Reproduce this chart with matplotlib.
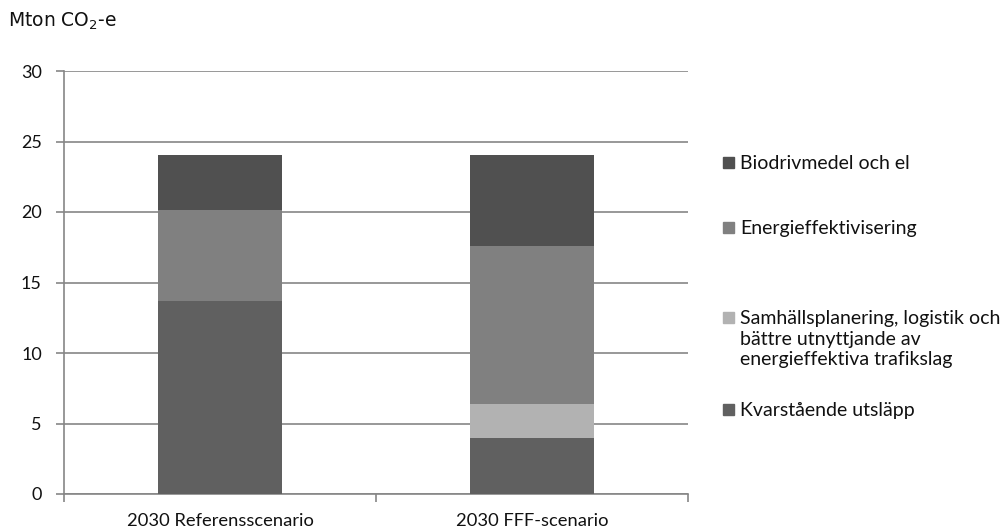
import matplotlib
matplotlib.use('Agg')
import matplotlib.pyplot as plt
from matplotlib.patches import Rectangle

# data (Mton CO2-e)
scenarios = ['2030 Referensscenario', '2030 FFF-scenario']
kvarstaende = [13.7, 3.95]
samhall = [0.0, 2.45]
energi = [6.45, 11.2]
bio = [3.9, 6.45]

names = ['Kvarstående utsläpp',
         'Samhällsplanering, logistik och\nbättre utnyttjande av\nenergieffektiva trafikslag',
         'Energieffektivisering',
         'Biodrivmedel och el']
series = [kvarstaende, samhall, energi, bio]
colors = ['#606060', '#b2b2b2', '#808080', '#505050']

grid_col = '#868686'
font = 'Lato'

fig = plt.figure(figsize=(10.08, 5.3), dpi=100)
ax = fig.add_axes([64 / 1008, 1 - 494 / 530, 624 / 1008, 423 / 530])

x = list(range(len(scenarios)))
bottom = [0.0] * len(scenarios)
for vals, col in zip(series, colors):
    ax.bar(x, vals, width=0.4, bottom=bottom, color=col, zorder=3)
    bottom = [b + v for b, v in zip(bottom, vals)]

ax.set_xlim(-0.5, 1.5)
ax.set_ylim(0, 30)
ax.set_yticks(range(0, 31, 5))
ax.yaxis.grid(True, color=grid_col, linewidth=1.2, zorder=0)
ax.set_axisbelow(True)

ax.set_xticks(x)
ax.set_xticklabels(scenarios, fontsize=13.2, family=font, color='#111111')
ax.set_xticks([-0.5, 0.5, 1.5], minor=True)
ax.tick_params(axis='x', which='major', length=0, pad=14)
ax.tick_params(axis='x', which='minor', length=6, color=grid_col, width=1.2)
ax.tick_params(axis='y', length=6, color=grid_col, width=1.2, pad=10,
               labelsize=13)
for lab in ax.get_yticklabels():
    lab.set_family(font)
    lab.set_color('#111111')

for s in ['top', 'right']:
    ax.spines[s].set_visible(False)
for s in ['left', 'bottom']:
    ax.spines[s].set_color(grid_col)
    ax.spines[s].set_linewidth(1.2)

fig.text(8 / 1008, 1 - 21 / 530, 'Mton CO$_2$-e', fontsize=13.5,
         family='DejaVu Sans', va='center', ha='left', color='#111111')

# legend, placed like the original
leg_y = [410, 318, 228, 163]
for name, col, yy in zip(names, colors, leg_y):
    fig.patches.append(Rectangle((723 / 1008, 1 - (yy + 5) / 530), 11 / 1008, 11 / 530,
                                 transform=fig.transFigure, color=col))
    fig.text(740 / 1008, 1 - (yy - 8) / 530, name, fontsize=14, family=font,
             va='top', ha='left', linespacing=1.25, color='#111111')

plt.savefig('out.png')
